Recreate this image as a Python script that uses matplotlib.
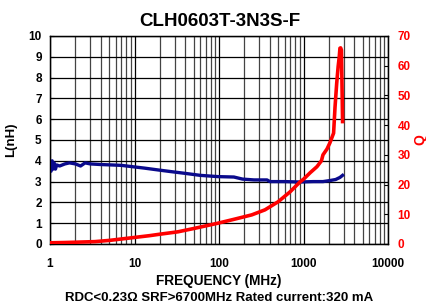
import matplotlib
matplotlib.use("Agg")
import matplotlib.pyplot as plt
from matplotlib.ticker import FixedLocator, NullFormatter

plt.rcParams['font.family'] = ['Liberation Sans', 'DejaVu Sans']
plt.rcParams['font.weight'] = 'bold'

# inductance curve (MHz, nH)
freq_L = [1.0, 1.03, 1.06, 1.09, 1.12, 1.16, 1.2, 1.3, 1.5, 1.7, 2.0, 2.3, 2.6, 3.0,
          4.0, 5.4, 7.0, 9.3, 13, 19, 27, 39, 60, 97, 150, 190, 260, 370, 400, 600,
          900, 1300, 1700, 2050, 2400, 2700, 2900]
L_nH = [3.7, 3.5, 4.0, 3.6, 3.9, 3.6, 3.8, 3.75, 3.85, 3.9, 3.85, 3.75, 3.9, 3.85,
        3.82, 3.8, 3.78, 3.72, 3.65, 3.56, 3.48, 3.4, 3.3, 3.24, 3.22, 3.12, 3.08,
        3.08, 3.0, 3.0, 2.98, 3.0, 3.0, 3.05, 3.1, 3.2, 3.3]

# Q curve (MHz, Q)
freq_Q = [1.0, 1.5, 2.0, 3.4, 5, 9.3, 15, 20, 32.6, 50, 97, 150, 244, 350, 500, 690,
          910, 1000, 1200, 1440, 1630, 1700, 1900, 2050, 2270, 2360, 2470, 2570, 2650,
          2700, 2750, 2810, 2850, 2900]
Q_vals = [0.4, 0.5, 0.6, 0.8, 1.2, 2.1, 2.8, 3.3, 4.1, 5.2, 7.0, 8.3, 9.8, 11.5, 14.2,
          17.5, 20.9, 21.8, 24, 26, 28, 30, 32, 34, 37.3, 46, 54, 59.7, 63, 65.9, 66,
          65.3, 55, 41.2]

x_ticks = [1, 10, 100, 1000, 10000]
x_labels = ["1", "10", "100", "1000", "10000"]
L_ticks = list(range(0, 11))
Q_ticks = list(range(0, 71, 10))

title = "CLH0603T-3N3S-F"
subtitle = "RDC<0.23\u03a9 SRF>6700MHz Rated current:320 mA"

fig = plt.figure(figsize=(4.26, 3.05), dpi=100)
ax = fig.add_axes([0.1174, 0.2, 0.7934, 0.682])

# grid
minor = [m * 10 ** d for d in range(4) for m in range(2, 10)]
for f in minor:
    ax.axvline(f, color='#444444', lw=0.9, zorder=1)
for f in x_ticks:
    ax.axvline(f, color='black', lw=0.9, zorder=1)
for v in L_ticks:
    ax.axhline(v, color='black', lw=0.9, zorder=1)

ax.plot(freq_L, L_nH, color='#0a0a8c', lw=2.4, zorder=3)

ax.set_xscale('log')
ax.set_xlim(1, 10000)
ax.set_ylim(0, 10)
ax.xaxis.set_major_locator(FixedLocator(x_ticks))
ax.xaxis.set_minor_formatter(NullFormatter())
ax.set_xticks(x_ticks)
ax.set_xticklabels(x_labels)
ax.set_yticks(L_ticks)
ax.tick_params(axis='x', which='both', length=0, pad=10, labelsize=8.5)
ax.tick_params(axis='y', direction='in', length=3, pad=6, labelsize=8.5)
for s in ax.spines.values():
    s.set_linewidth(1.0)

ax.set_ylabel("L(nH)", fontsize=9.5, fontweight='bold', labelpad=8)
ax.set_xlabel("FREQUENCY (MHz)", fontsize=9.8, fontweight='bold', labelpad=3)

ax2 = ax.twinx()
ax2.plot(freq_Q, Q_vals, color='#ff0000', lw=2.6, zorder=4)
ax2.set_ylim(0, 70)
ax2.set_yticks(Q_ticks)
ax2.tick_params(axis='y', direction='in', length=3, pad=7, labelsize=8.5,
                labelcolor='#ff0000')

fig.text(420 / 426, 0.541, "Q", rotation=90, ha='center', va='center',
         fontsize=10, fontweight='bold', color='#ff0000')
fig.text(0.516, 0.928, title, ha='center', va='center', fontsize=13.5, fontweight='bold')
fig.text(0.515, 0.023, subtitle, ha='center', va='center', fontsize=9.5, fontweight='bold')

fig.savefig("out.png", dpi=100)
